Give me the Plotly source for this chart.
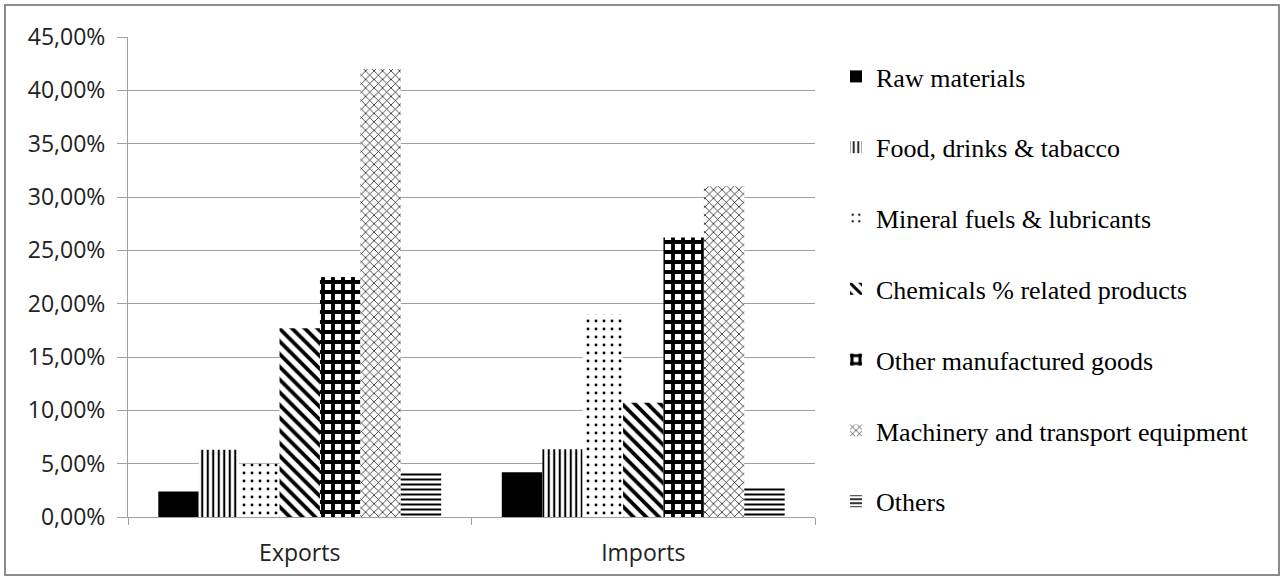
import plotly.graph_objects as go

# Trade structure by product group (share of total)
groups = ["Exports", "Imports"]
series_names = [
    "Raw materials",
    "Food, drinks & tabacco",
    "Mineral fuels & lubricants",
    "Chemicals % related products",
    "Other manufactured goods",
    "Machinery and transport equipment",
    "Others",
]
raw_materials = [0.024, 0.042]
food_drinks = [0.063, 0.0635]
mineral_fuels = [0.050, 0.190]
chemicals = [0.177, 0.107]
other_manufactured = [0.225, 0.262]
machinery = [0.420, 0.310]
others = [0.042, 0.028]

y_ticks = [0.0, 0.05, 0.10, 0.15, 0.20, 0.25, 0.30, 0.35, 0.40, 0.45]

series_values = [raw_materials, food_drinks, mineral_fuels, chemicals,
                 other_manufactured, machinery, others]

# black-and-white fill styles, one per product group
fills = [
    dict(shape="", solidity=1.0, size=8),          # solid black
    dict(shape="|", solidity=0.38, size=5.5),       # vertical lines
    dict(shape=".", solidity=0.10, size=8),         # sparse dots
    dict(shape="\\", solidity=0.42, size=9),        # wide downward diagonal
    dict(shape="+", solidity=0.62, size=10),        # checker-like
    dict(shape="x", solidity=0.22, size=6),         # fine zigzag-like
    dict(shape="-", solidity=0.40, size=5),         # horizontal lines
]

fig = go.Figure()
for i, (name, vals, f) in enumerate(zip(series_names, series_values, fills)):
    if f["shape"] == "":
        marker = dict(color="black", line=dict(width=0))
    else:
        marker = dict(
            color="white",
            line=dict(width=0),
            pattern=dict(shape=f["shape"], solidity=f["solidity"], size=f["size"],
                         fgcolor="black", bgcolor="white", fillmode="replace"),
        )
    fig.add_trace(go.Bar(x=groups, y=vals, name=name, marker=marker,
                         legendgroup=f"g{i}"))

L, R, T, B = 128, 468, 37, 62
W, H = 1283, 579
pw, ph = W - L - R, H - T - B

def px_x(p):
    return (p - L) / pw

def px_y(p):
    return (H - B - p) / ph

fig.update_layout(
    width=W, height=H,
    margin=dict(l=L, r=R, t=T, b=B, pad=0, autoexpand=False),
    paper_bgcolor="white", plot_bgcolor="white",
    barmode="group", bargap=0.1765, bargroupgap=0,
    separators=",.",
    showlegend=True,
    legend=dict(
        x=px_x(836), xanchor="left",
        y=px_y(289), yanchor="middle",
        maxheight=570,
        font=dict(family="Liberation Serif", size=26, color="black"),
        tracegroupgap=34, itemwidth=30,
        bgcolor="rgba(0,0,0,0)", borderwidth=0,
    ),
    font=dict(family="Open Sans", color="#222222"),
    shapes=[dict(type="rect", xref="paper", yref="paper",
                 x0=px_x(5), x1=px_x(1279), y0=px_y(575), y1=px_y(5),
                 line=dict(color="#8c8c8c", width=2), fillcolor="rgba(0,0,0,0)",
                 layer="below")],
)

fig.update_yaxes(
    range=[0, 0.45], tickvals=y_ticks, tickformat=".2%",
    showgrid=True, gridcolor="#a0a0a0", gridwidth=1,
    showline=True, linecolor="#a0a0a0", linewidth=1,
    ticks="outside", ticklen=10, tickcolor="#a0a0a0",
    ticklabelstandoff=7,
    tickfont=dict(family="Open Sans", size=23, color="#222222"),
    zeroline=False,
)
fig.update_xaxes(
    showline=True, linecolor="#a0a0a0", linewidth=1,
    ticks="outside", ticklen=7, tickcolor="#a0a0a0", tickson="boundaries",
    ticklabelstandoff=15,
    tickfont=dict(family="Open Sans", size=23, color="#222222"),
    mirror=False,
)

fig.write_html("out.html")
